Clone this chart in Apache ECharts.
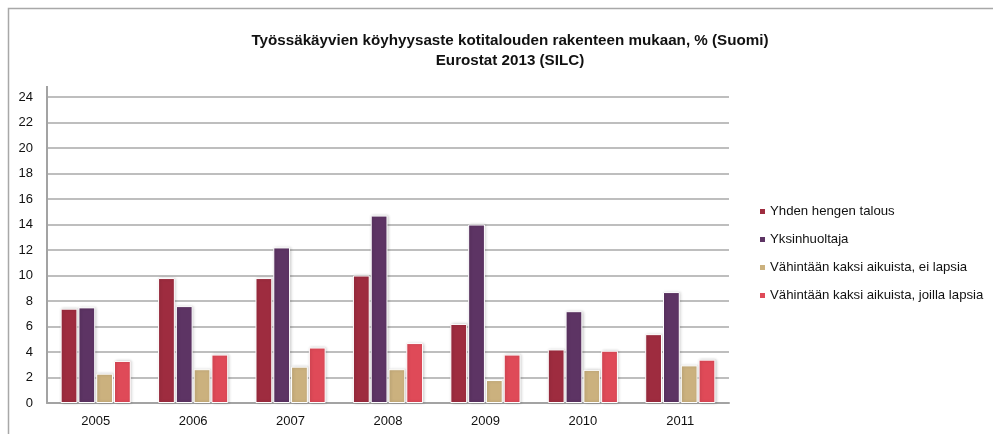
<!DOCTYPE html>
<html><head><meta charset="utf-8">
<script src="https://cdn.jsdelivr.net/npm/echarts@6/dist/echarts.min.js"></script>
<style>html,body{margin:0;padding:0;background:#fff}#c{width:993px;height:434px}</style>
</head><body><div id="c"></div>
<script>
var years = ['2005','2006','2007','2008','2009','2010','2011'];
var seriesNames = ['Yhden hengen talous','Yksinhuoltaja','Vähintään kaksi aikuista, ei lapsia','Vähintään kaksi aikuista, joilla lapsia'];
var yhdenHengen = [7.4, 9.8, 9.8, 10.0, 6.2, 4.2, 5.4];
var yksinhuoltaja = [7.5, 7.6, 12.2, 14.7, 14.0, 7.2, 8.7];
var eiLapsia = [2.3, 2.65, 2.85, 2.65, 1.8, 2.6, 2.95];
var joillaLapsia = [3.3, 3.8, 4.35, 4.7, 3.8, 4.1, 3.4];
var colors = ['#9e2c3f','#5d3464','#cbb17e','#df4a58'];
var FONT = '"Liberation Sans", Arial, sans-serif';
var allData = [yhdenHengen, yksinhuoltaja, eiLapsia, joillaLapsia];
var chart = echarts.init(document.getElementById('c'), null, {renderer:'canvas'});
chart.setOption({
  animation:false,
  backgroundColor:'#fff',
  title:{
    text:'Työssäkäyvien köyhyysaste kotitalouden rakenteen mukaan, % (Suomi)\nEurostat 2013 (SILC)',
    left:505, top:26, textAlign:'center',
    textStyle:{fontFamily:FONT, fontWeight:'bold', fontSize:15.2, color:'#111', lineHeight:20}
  },
  legend:{
    orient:'vertical', left:753, top:200, itemWidth:7, itemHeight:7, itemGap:15,
    icon:'rect',
    textStyle:{fontFamily:FONT, fontSize:13.2, color:'#111', padding:[0,0,0,-1]},
    data:seriesNames
  },
  grid:{left:47, right:264, top:97, bottom:31},
  xAxis:{
    type:'category', data:years,
    axisLine:{lineStyle:{color:'#a3a3a3', width:2}},
    axisTick:{show:false},
    axisLabel:{fontFamily:FONT, fontSize:13, color:'#111', margin:12}
  },
  yAxis:{
    type:'value', min:0, max:24, interval:2,
    axisLine:{show:true, lineStyle:{color:'#a3a3a3', width:2}},
    axisTick:{show:false},
    axisLabel:{fontFamily:FONT, fontSize:13, color:'#111', margin:14},
    splitLine:{lineStyle:{color:'#a8a8a8', width:1.5}}
  },
  graphic:[
    {type:'rect', shape:{x:8.5, y:8.5, width:1100, height:500}, style:{fill:'none', stroke:'#a8a8a8', lineWidth:1.5}, silent:true},
    {type:'line', shape:{x1:47, y1:86, x2:47, y2:98}, style:{stroke:'#a3a3a3', lineWidth:2}, silent:true}
  ],
  series: allData.map(function(d,i){
    return {
      name:seriesNames[i], type:'bar', data:d,
      barGap:'6%', barCategoryGap:'28%',
      itemStyle:{color:colors[i], borderColor:'#fff', borderWidth:1,
        shadowColor:'rgba(0,0,0,0.2)', shadowBlur:3, shadowOffsetX:1, shadowOffsetY:0}
    };
  })
});
</script></body></html>
